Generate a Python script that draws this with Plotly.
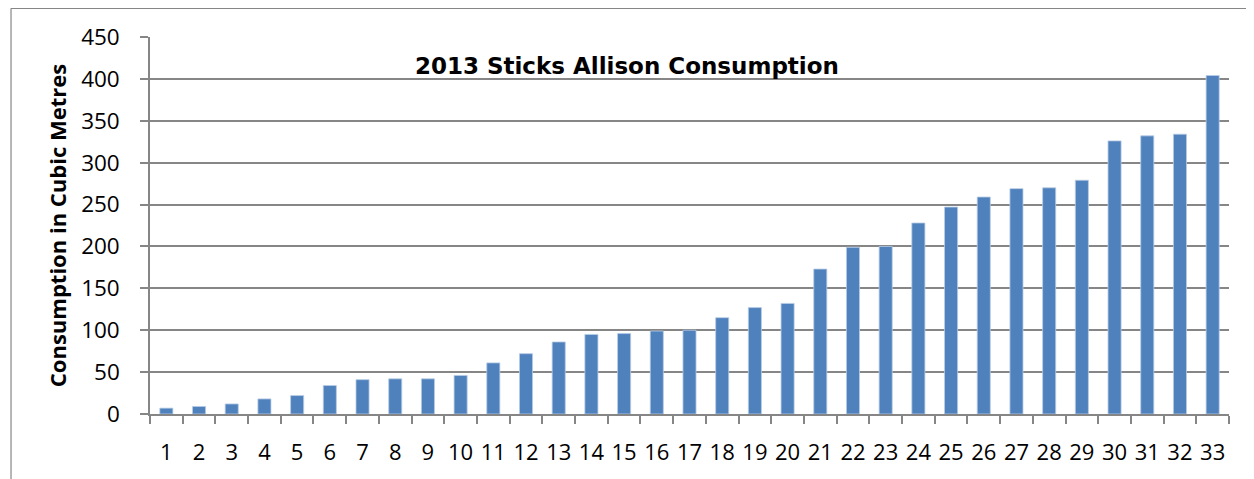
import plotly.graph_objects as go

categories = [str(i) for i in range(1, 34)]
consumption = [7, 9, 12, 18, 22, 34, 41, 42, 42, 46, 61, 72, 86, 95, 96, 99, 100,
               115, 127, 132, 173, 199, 200, 228, 247, 259, 269, 270, 279, 326,
               332, 334, 404]
y_ticks = [0, 50, 100, 150, 200, 250, 300, 350, 400, 450]

fig = go.Figure()
fig.add_trace(go.Bar(
    x=categories, y=consumption,
    marker=dict(color="#4F81BD", line=dict(color="#B9CDE5", width=0.8)),
))

grey = "#868686"
fig.update_layout(
    width=1246, height=471,
    margin=dict(l=142, r=25, t=29, b=65),
    paper_bgcolor="white", plot_bgcolor="white",
    bargap=0.6,
    showlegend=False,
    font=dict(family="Open Sans", color="black"),
    title=dict(
        text="2013 Sticks Allison Consumption",
        font=dict(family="DejaVu Sans", size=23, color="black", weight="bold"),
        xref="paper", x=0.442, xanchor="center",
        yref="paper", y=0.924, yanchor="middle",
    ),
    xaxis=dict(
        type="category",
        showgrid=False,
        showline=True, linecolor=grey, linewidth=1.5,
        ticks="outside", tickson="boundaries", ticklen=8, tickcolor=grey, tickwidth=1.5,
        tickfont=dict(family="Open Sans", size=22, color="black"),
        tickangle=0,
        ticklabelstandoff=18,
        automargin=False,
    ),
    yaxis=dict(
        range=[0, 450],
        tickvals=y_ticks,
        showgrid=True, gridcolor=grey, gridwidth=1.5,
        showline=True, linecolor=grey, linewidth=1.5,
        ticks="outside", ticklen=8, tickcolor=grey, tickwidth=1.5,
        tickfont=dict(family="Open Sans", size=22.5, color="black"),
        ticklabelstandoff=16,
        zeroline=False,
        automargin=False,
        title=dict(text="Consumption in Cubic Metres",
                   font=dict(family="Open Sans", size=22, color="black", weight="bold"),
                   standoff=8),
    ),
)

# outer chart border (top and left edges visible)
fig.add_shape(type="line", xref="paper", yref="paper",
              x0=-0.1288, x1=1.05, y0=1.076, y1=1.076,
              line=dict(color=grey, width=1.2))
fig.add_shape(type="line", xref="paper", yref="paper",
              x0=-0.1288, x1=-0.1288, y0=1.076, y1=-0.25,
              line=dict(color=grey, width=1.2))

fig.write_html("out.html")
